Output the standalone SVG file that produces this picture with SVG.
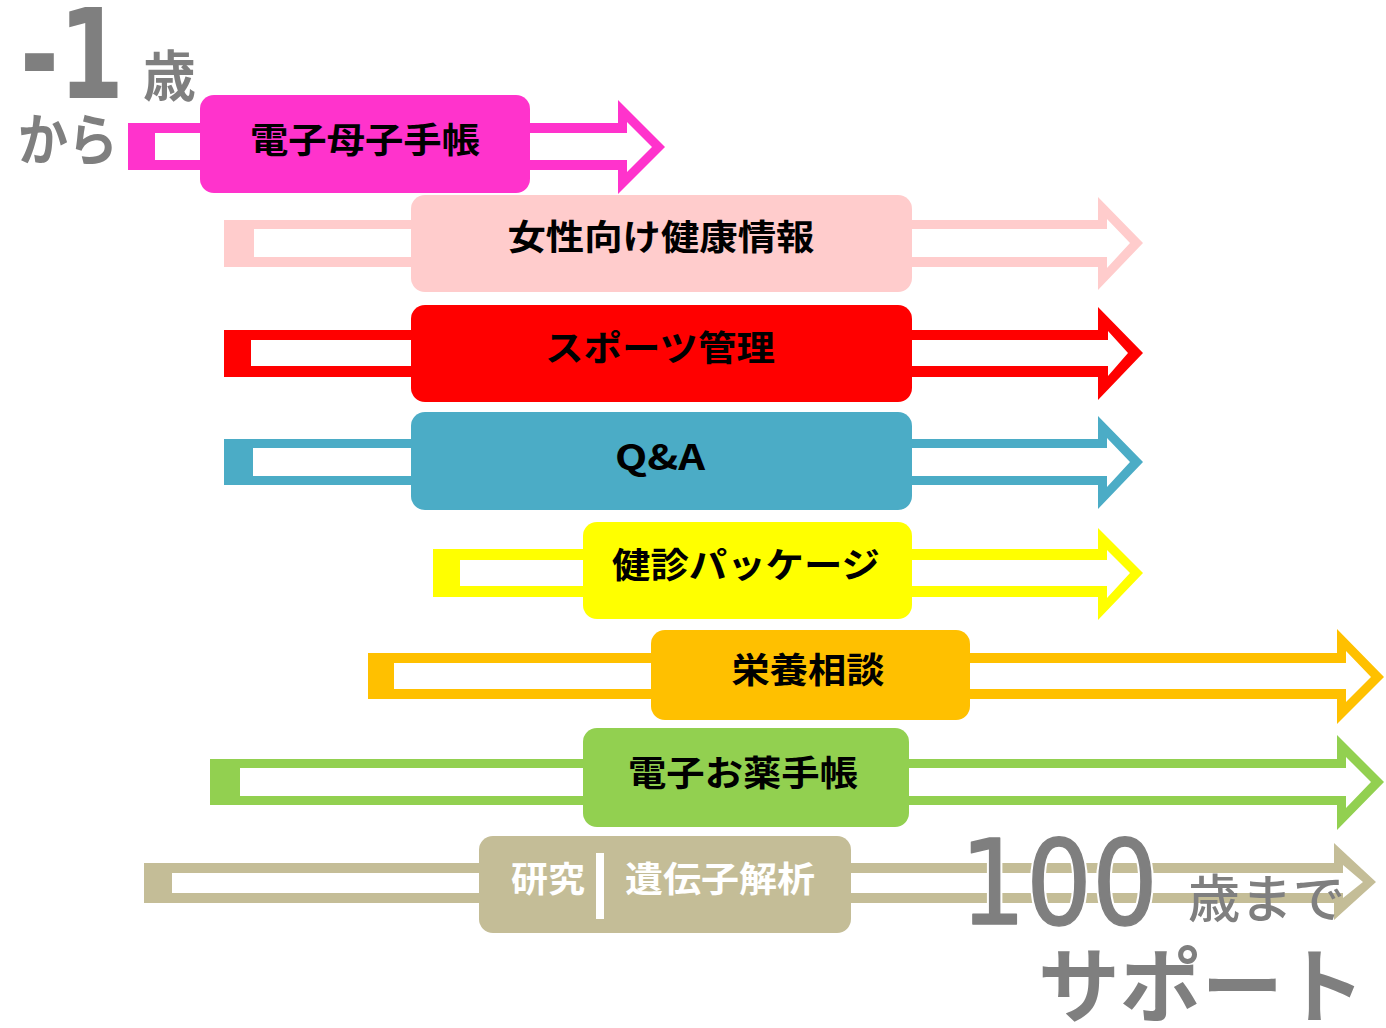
<svg xmlns="http://www.w3.org/2000/svg" width="1386" height="1028" viewBox="0 0 1386 1028">
<style>
.arr{fill-rule:evenodd}
.lbl{font-family:"Noto Sans CJK JP","Noto Sans",sans-serif;font-weight:700;font-size:35px;fill:#000;text-anchor:middle}
.wl{fill:#fff}
.grey{font-family:"Noto Sans CJK JP","Noto Sans",sans-serif;fill:#7F7F7F}
.num{font-family:"DejaVu Sans",sans-serif;font-size:118px;fill:#7F7F7F;stroke:#7F7F7F;stroke-width:1.5px;stroke-linejoin:round}
</style>
<rect width="1386" height="1028" fill="#fff"/>
<g id="connectors">
<path class="arr" fill="#FF33CC" d="M128,123 H618 V100 L665,147 L618,194 V170 H128 Z M155,133 H627 V122 L652,147 L627,172 V160 H155 Z"/>
<path class="arr" fill="#FFCCCC" d="M224,220 H1098 V197 L1143,243 L1098,290 V267 H224 Z M254,229 H1107 V219 L1130,243 L1107,268 V257 H254 Z"/>
<path class="arr" fill="#FF0000" d="M224,330 H1098 V307 L1143,353 L1098,400 V377 H224 Z M251,340 H1108 V331 L1128,353 L1108,376 V366 H251 Z"/>
<path class="arr" fill="#4BACC6" d="M224,439 H1098 V416 L1143,462 L1098,509 V485 H224 Z M253,448 H1107 V438 L1130,462 L1107,487 V476 H253 Z"/>
<path class="arr" fill="#FFFF00" d="M433,549 H1098 V528 L1143,573 L1098,620 V597 H433 Z M460,560 H1107 V550 L1130,573 L1107,598 V586 H460 Z"/>
<path class="arr" fill="#FFC000" d="M368,653 H1337 V629 L1384,677 L1337,724 V699 H368 Z M394,663 H1346 V651 L1371,677 L1346,702 V689 H394 Z"/>
<path class="arr" fill="#92D050" d="M210,759 H1337 V735 L1384,782 L1337,830 V805 H210 Z M240,768 H1346 V757 L1371,782 L1346,808 V796 H240 Z"/>
<path class="arr" fill="#C4BD97" d="M144,863 H1334 V843 L1376,882 L1334,920 V903 H144 Z M172,873 H1343 V865 L1363,882 L1343,898 V893 H172 Z"/>
</g>
<g id="n1"><rect x="200" y="95" width="330" height="98" rx="14" fill="#FF33CC"/><text class="lbl" x="365" y="153" textLength="230" lengthAdjust="spacingAndGlyphs">電子母子手帳</text></g>
<g id="n2"><rect x="411" y="195" width="501" height="97" rx="14" fill="#FFCCCC"/><text class="lbl" x="661" y="250" textLength="307" lengthAdjust="spacingAndGlyphs">女性向け健康情報</text></g>
<g id="n3"><rect x="411" y="305" width="501" height="97" rx="14" fill="#FF0000"/><text class="lbl" x="660" y="361" textLength="230" lengthAdjust="spacingAndGlyphs">スポーツ管理</text></g>
<g id="n4"><rect x="411" y="412" width="501" height="98" rx="14" fill="#4BACC6"/><text class="lbl" x="660" y="470" font-size="37" textLength="90" lengthAdjust="spacingAndGlyphs">Q&amp;A</text></g>
<g id="n5"><rect x="583" y="522" width="329" height="97" rx="14" fill="#FFFF00"/><text class="lbl" x="746" y="578" textLength="268" lengthAdjust="spacingAndGlyphs">健診パッケージ</text></g>
<g id="n6"><rect x="651" y="630" width="319" height="90" rx="14" fill="#FFC000"/><text class="lbl" x="808" y="683" textLength="153" lengthAdjust="spacingAndGlyphs">栄養相談</text></g>
<g id="n7"><rect x="583" y="728" width="326" height="99" rx="14" fill="#92D050"/><text class="lbl" x="743" y="786" textLength="230" lengthAdjust="spacingAndGlyphs">電子お薬手帳</text></g>
<g id="n8"><rect x="479" y="836" width="372" height="97" rx="14" fill="#C4BD97"/><rect x="596" y="853" width="8" height="66" fill="#fff"/><text class="lbl wl" x="548" y="892" textLength="74" lengthAdjust="spacingAndGlyphs">研究</text><text class="lbl wl" x="720" y="892" textLength="190" lengthAdjust="spacingAndGlyphs">遺伝子解析</text></g>
<g id="start-label">
<text x="20" y="98" font-family="'DejaVu Sans',sans-serif" font-weight="700" font-size="124" fill="#7F7F7F" textLength="104" lengthAdjust="spacingAndGlyphs">-1</text>
<text class="grey" x="143" y="96" font-weight="700" font-size="55" textLength="53" lengthAdjust="spacingAndGlyphs">歳</text>
<text class="grey" x="18" y="160" font-weight="700" font-size="56" textLength="100" lengthAdjust="spacingAndGlyphs">から</text>
</g>
<g id="end-label">
<text class="num" x="960" y="924" stroke="#fff" style="stroke:#fff;stroke-width:6px" textLength="198" lengthAdjust="spacingAndGlyphs">100</text>
<text class="num" x="960" y="924" textLength="198" lengthAdjust="spacingAndGlyphs">100</text>
<text class="grey" x="1188" y="918" font-weight="500" font-size="52" textLength="157" lengthAdjust="spacingAndGlyphs">歳まで</text>
<text class="grey" x="1038" y="1016" font-weight="700" font-size="82" textLength="327" lengthAdjust="spacingAndGlyphs">サポート</text>
</g>
</svg>
